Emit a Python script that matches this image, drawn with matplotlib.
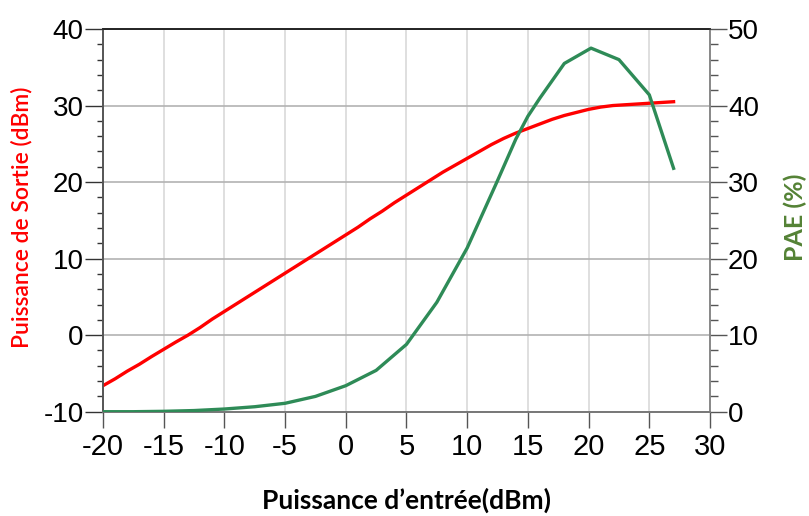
import matplotlib
matplotlib.use("Agg")
import matplotlib.pyplot as plt
from matplotlib.ticker import MultipleLocator

# Output power (dBm) vs input power (dBm)
pin_out = [-20, -19, -18, -17, -16, -15, -14, -13, -12, -11, -10, -9, -8, -7, -6, -5,
           -4, -3, -2, -1, 0, 1, 2, 3, 4, 5, 6, 7, 8, 9, 10, 11, 12, 13, 14, 15,
           16, 17, 18, 19, 20, 21, 22, 23, 24, 25, 26, 27]
pout = [-6.6, -5.7, -4.7, -3.8, -2.8, -1.85, -0.9, 0.0, 1.0, 2.1, 3.1, 4.1, 5.1, 6.1, 7.1, 8.1,
        9.1, 10.1, 11.1, 12.1, 13.1, 14.1, 15.2, 16.2, 17.3, 18.3, 19.3, 20.3, 21.3, 22.2, 23.1, 24.0,
        24.9, 25.7, 26.4, 27.0, 27.6, 28.2, 28.7, 29.1, 29.5, 29.8, 30.0, 30.1, 30.2, 30.3, 30.4, 30.5]

# PAE (%) vs input power (dBm)
pin_pae = [-20, -17.5, -15, -12.5, -10, -7.5, -5, -2.5, 0, 2.5, 5, 7.5, 10, 12.5, 14, 15, 16, 18, 20.2, 22.5, 25, 27]
pae = [0.0, 0.0, 0.05, 0.15, 0.35, 0.65, 1.1, 2.0, 3.4, 5.4, 8.8, 14.3, 21.4, 30.2, 35.6, 38.6, 41.0, 45.5, 47.5, 46.0, 41.4, 31.8]

xticks = [-20, -15, -10, -5, 0, 5, 10, 15, 20, 25, 30]
yticks_left = [-10, 0, 10, 20, 30, 40]
yticks_right = [0, 10, 20, 30, 40, 50]

plt.rcParams['font.family'] = ['Liberation Sans', 'DejaVu Sans']
plt.rcParams['axes.unicode_minus'] = False

fig = plt.figure(figsize=(8.09, 5.16), dpi=100)
ax = fig.add_axes([103/809, 1-411.7/516, (710-103)/809, (411.7-29)/516])
ax2 = ax.twinx()

ax.set_xlim(-20, 30)
ax.set_ylim(-10, 40)
ax2.set_ylim(0, 50)

ax.set_xticks(xticks)
ax.set_yticks(yticks_left)
ax2.set_yticks(yticks_right)
ax.yaxis.set_minor_locator(MultipleLocator(2))
ax2.yaxis.set_minor_locator(MultipleLocator(2))

ax.grid(axis='x', color='#d9d9d9', linewidth=1.2)
ax.grid(axis='y', color='#b3b3b3', linewidth=1.2)
ax.set_axisbelow(True)

ax.tick_params(axis='x', which='major', length=11.5, width=1, color='#555555', labelsize=21, pad=4)
ax.tick_params(axis='y', which='major', length=13, width=1, color='#333333', labelsize=20, pad=1)
ax.tick_params(axis='y', which='minor', length=4.5, width=1, color='#333333')
ax2.tick_params(axis='y', which='major', length=12, width=1, color='#555555', labelsize=20, pad=1)
ax2.tick_params(axis='y', which='minor', length=6, width=1, color='#555555')

for a in (ax, ax2):
    a.spines['top'].set_color('#222222')
    a.spines['left'].set_color('#555555')
    a.spines['right'].set_color('#888888')
    a.spines['bottom'].set_color('#777777')
    for s in a.spines.values():
        s.set_linewidth(1.2)

ax.plot(pin_out, pout, color='#ff0000', linewidth=2.4, zorder=3)
ax2.plot(pin_pae, pae, color='#2e8b57', linewidth=2.4, zorder=3)

fig.text(0.503, 0.031, "Puissance d\u2019entrée(dBm)", ha='center', va='center',
         fontsize=19, fontweight='bold', family=['Lato', 'DejaVu Sans'])
fig.text(0.027, 0.579, "Puissance de Sortie (dBm)", ha='center', va='center', rotation=90,
         fontsize=16.5, fontweight='semibold', color='#ff0000', family=['Lato', 'DejaVu Sans'])
fig.text(0.983, 0.579, "PAE (%)", ha='center', va='center', rotation=90,
         fontsize=18, fontweight='bold', color='#548235', family=['Lato', 'DejaVu Sans'])

fig.savefig("out.png", dpi=100)
